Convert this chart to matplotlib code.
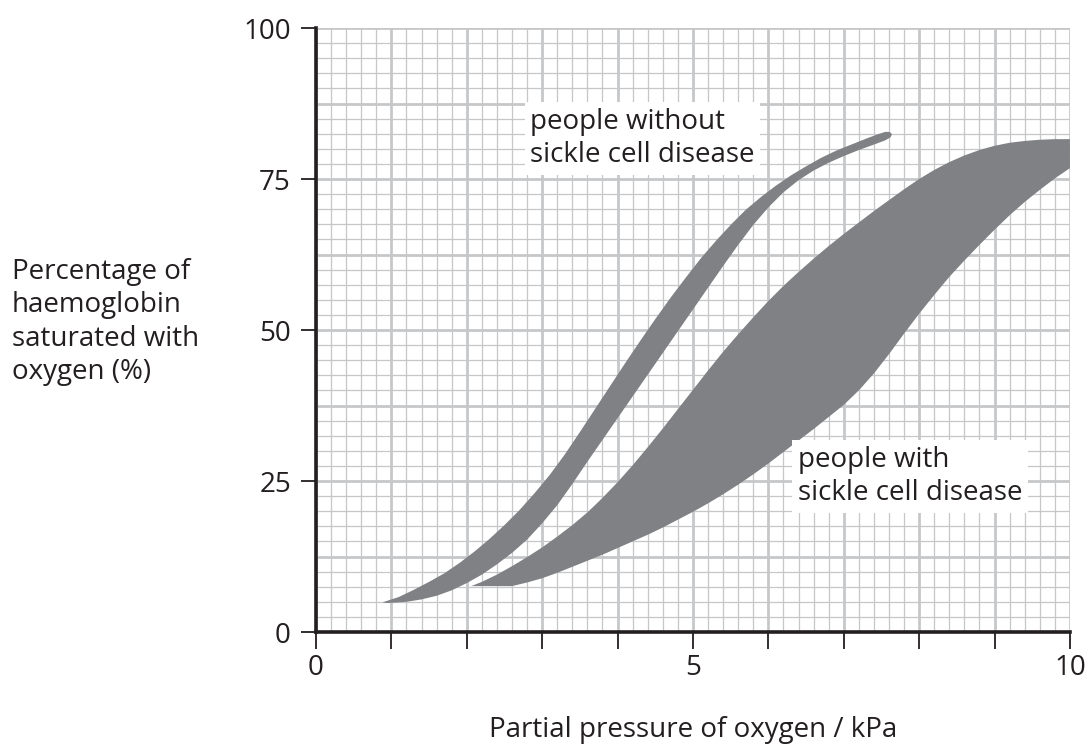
import numpy as np
import matplotlib
matplotlib.use("Agg")
import matplotlib.pyplot as plt

# Band of curves for people without sickle cell disease (kPa, % saturation)
NORMAL_UPPER_X = [0.88, 1.1, 1.3, 1.5, 1.7, 1.9, 2.1, 2.3, 2.5, 2.7, 2.9, 3.1, 3.3, 3.5, 3.7,
                  3.9, 4.1, 4.3, 4.5, 4.7, 4.9, 5.1, 5.3, 5.5, 5.7, 5.9, 6.1, 6.3, 6.5, 6.7,
                  6.9, 7.1, 7.3, 7.45, 7.55, 7.61, 7.64]
NORMAL_UPPER_Y = [4.9, 5.8, 7.0, 8.3, 9.7, 11.4, 13.3, 15.4, 17.7, 20.2, 23.0, 26.0, 29.4, 33.1, 36.9,
                  40.7, 44.5, 48.2, 51.8, 55.3, 58.6, 61.8, 64.7, 67.4, 69.9, 72.0, 73.9, 75.6, 77.1, 78.5,
                  79.7, 80.7, 81.7, 82.4, 82.8, 82.8, 82.4]
NORMAL_LOWER_X = [0.95, 1.2, 1.4, 1.6, 1.8, 2.0, 2.2, 2.4, 2.6, 2.8, 3.0, 3.2, 3.4, 3.6, 3.8,
                  4.0, 4.2, 4.4, 4.6, 4.8, 5.0, 5.2, 5.4, 5.6, 5.8, 6.0, 6.2, 6.4, 6.6, 6.8,
                  7.0, 7.2, 7.4, 7.55, 7.62]
NORMAL_LOWER_Y = [4.8, 5.0, 5.4, 6.0, 6.9, 8.1, 9.5, 11.2, 13.1, 15.3, 18.0, 21.0, 24.5, 28.2, 31.8,
                  35.4, 39.0, 42.6, 46.2, 49.8, 53.4, 57.0, 60.6, 64.1, 67.4, 70.3, 72.8, 74.8, 76.4, 77.7,
                  78.8, 79.8, 80.7, 81.4, 81.9]

# Band of curves for people with sickle cell disease
SICKLE_UPPER_X = [2.06, 2.2, 2.4, 2.6, 2.8, 3.0, 3.2, 3.4, 3.6, 3.8, 4.0, 4.2, 4.4, 4.6, 4.8,
                  5.0, 5.2, 5.4, 5.6, 5.8, 6.0, 6.2, 6.4, 6.6, 6.8, 7.0, 7.2, 7.4, 7.6, 7.8,
                  8.0, 8.2, 8.4, 8.6, 8.8, 9.0, 9.2, 9.4, 9.6, 9.8, 10.0]
SICKLE_UPPER_Y = [7.6, 8.3, 9.5, 10.9, 12.4, 14.0, 15.8, 17.7, 19.8, 22.2, 24.8, 27.6, 30.6, 33.7, 36.9,
                  40.1, 43.3, 46.4, 49.3, 52.1, 54.8, 57.3, 59.6, 61.8, 63.9, 65.9, 67.8, 69.7, 71.5, 73.3,
                  75.0, 76.5, 77.8, 78.9, 79.8, 80.5, 81.0, 81.3, 81.5, 81.6, 81.6]
SICKLE_LOWER_X = [2.06, 2.3, 2.6, 2.8, 3.0, 3.2, 3.4, 3.6, 3.8, 4.0, 4.2, 4.4, 4.6, 4.8, 5.0,
                  5.2, 5.4, 5.6, 5.8, 6.0, 6.2, 6.4, 6.6, 6.8, 7.0, 7.2, 7.4, 7.6, 7.8, 8.0,
                  8.2, 8.4, 8.6, 8.8, 9.0, 9.2, 9.4, 9.6, 9.8, 10.0]
SICKLE_LOWER_Y = [7.6, 7.6, 7.6, 8.2, 8.9, 9.8, 10.8, 11.8, 12.8, 13.9, 15.0, 16.1, 17.3, 18.6, 19.9,
                  21.3, 22.8, 24.4, 26.1, 27.9, 29.8, 31.7, 33.6, 35.6, 37.6, 40.0, 42.8, 46.0, 49.4, 52.7,
                  55.8, 58.8, 61.5, 64.1, 66.6, 69.0, 71.2, 73.2, 75.1, 76.8]

X_TICKS = list(range(0, 11))
X_TICK_LABELS = ["0", "", "", "", "", "5", "", "", "", "", "10"]
Y_TICKS = [0, 12.5, 25, 37.5, 50, 62.5, 75, 87.5, 100]
Y_TICK_LABELS = ["0", "", "25", "", "50", "", "75", "", "100"]

TEXT = "#231f20"
GRID = "#c6c7c9"
FILL = "#808184"

plt.rcParams['font.family'] = ['Open Sans', 'DejaVu Sans']

fig = plt.figure(figsize=(10.9, 7.49), dpi=100)
ax = fig.add_axes([0.2899, 0.1562, 0.6917, 0.8064])

ax.set_xlim(0, 10)
ax.set_ylim(0, 100)

ax.set_xticks(X_TICKS)
ax.set_xticklabels(X_TICK_LABELS)
ax.set_yticks(Y_TICKS)
ax.set_yticklabels(Y_TICK_LABELS)
ax.set_xticks(np.arange(0, 10.01, 0.2), minor=True)
ax.set_yticks(np.arange(0, 100.01, 2.5), minor=True)

ax.grid(which='major', color=GRID, linewidth=2.0)
ax.grid(which='minor', color=GRID, linewidth=0.9)
ax.set_axisbelow(True)

ax.tick_params(which='minor', length=0)
ax.tick_params(which='major', width=1.3, color=TEXT, labelsize=20, labelcolor=TEXT)
ax.tick_params(axis='x', which='major', length=12, pad=4)
ax.tick_params(axis='y', which='major', length=11, pad=7)
for t, lab in zip(ax.yaxis.get_major_ticks(), Y_TICK_LABELS):
    if lab == "":
        t.tick1line.set_visible(False)

for s in ['top', 'right']:
    ax.spines[s].set_visible(False)
for s in ['left', 'bottom']:
    ax.spines[s].set_linewidth(2.6)
    ax.spines[s].set_color(TEXT)

ax.fill(NORMAL_UPPER_X + NORMAL_LOWER_X[::-1], NORMAL_UPPER_Y + NORMAL_LOWER_Y[::-1],
        color=FILL, linewidth=0, zorder=3)
ax.fill(SICKLE_UPPER_X + SICKLE_LOWER_X[::-1], SICKLE_UPPER_Y + SICKLE_LOWER_Y[::-1],
        color=FILL, linewidth=0, zorder=3)

box = dict(facecolor='white', edgecolor='none', pad=4)
ax.text(2.84, 86.8, "people without\nsickle cell disease", ha='left', va='top',
        fontsize=20, color=TEXT, bbox=box, zorder=4, linespacing=1.25)
ax.text(6.39, 30.8, "people with\nsickle cell disease", ha='left', va='top',
        fontsize=20, color=TEXT, bbox=box, zorder=4, linespacing=1.25)

fig.text(12 / 1090, 1 - 258 / 749, "Percentage of\nhaemoglobin\nsaturated with\noxygen (%)",
         ha='left', va='top', fontsize=20, color=TEXT, linespacing=1.26)
fig.text(693 / 1090, 1 - 730 / 749, "Partial pressure of oxygen / kPa",
         ha='center', va='center', fontsize=20, color=TEXT)

fig.savefig("out.png", dpi=100)
